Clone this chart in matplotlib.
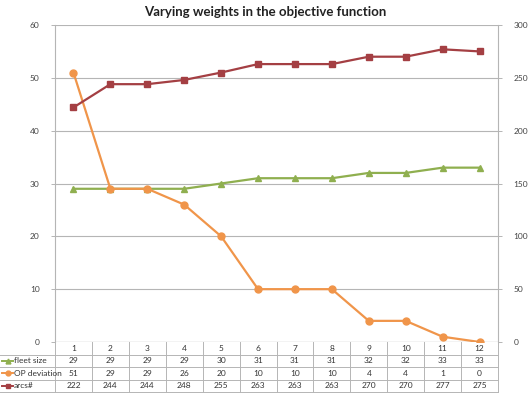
import matplotlib.pyplot as plt
from matplotlib.transforms import blended_transform_factory
from matplotlib.lines import Line2D

plt.rcParams['font.family'] = ['Lato', 'DejaVu Sans']

runs = [1, 2, 3, 4, 5, 6, 7, 8, 9, 10, 11, 12]
fleet_size = [29, 29, 29, 29, 30, 31, 31, 31, 32, 32, 33, 33]
op_deviation = [51, 29, 29, 26, 20, 10, 10, 10, 4, 4, 1, 0]
arcs = [222, 244, 244, 248, 255, 263, 263, 263, 270, 270, 277, 275]

c_fleet = '#8FAF4F'
c_op = '#F0954A'
c_arcs = '#A43F43'
grid_c = '#B5B5B5'

fig = plt.figure(figsize=(5.31, 3.94), dpi=100)
ax = fig.add_axes([55/531, 1-342/394, 443/531, 317/394])
ax2 = ax.twinx()

ax.plot(runs, fleet_size, color=c_fleet, marker='^', ms=5, lw=1.6)
ax.plot(runs, op_deviation, color=c_op, marker='o', ms=5, lw=1.6)
ax2.plot(runs, arcs, color=c_arcs, marker='s', ms=4.5, lw=1.6)

ax.set_xlim(0.5, 12.5)
ax.set_ylim(0, 60)
ax2.set_ylim(0, 300)
ax.set_yticks(range(0, 61, 10))
ax2.set_yticks(range(0, 301, 50))
ax.yaxis.grid(True, color=grid_c, lw=0.8)
ax.set_axisbelow(True)
ax.set_xticks([])
for a in (ax, ax2):
    a.tick_params(axis='y', labelsize=6, colors='#444444', length=3, width=0.7, color=grid_c, pad=8)
    for s in a.spines.values():
        s.set_visible(False)
ax.spines['left'].set_visible(True)
ax.spines['left'].set_color(grid_c)
ax2.spines['right'].set_visible(True)
ax2.spines['right'].set_color(grid_c)
ax.axhline(0, color='#888888', lw=0.8)

fig.text(0.5, 1 - 12/394, 'Varying weights in the objective function', fontsize=9.5,
         fontweight='bold', color='#222222', ha='center', va='center')

# data table under the plot
tr = blended_transform_factory(ax.transData, ax.transAxes)
rh = 12.5 / 317
px = 1 / 443
label_x = -55 * px
rows = [('fleet size', fleet_size, c_fleet, '^'),
        ('OP deviation', op_deviation, c_op, 'o'),
        ('arcs#', arcs, c_arcs, 's')]
nrows = len(rows) + 1
for i in range(13):
    ax.add_line(Line2D([i + 0.5, i + 0.5], [0, -nrows * rh], transform=tr,
                       color=grid_c, lw=0.7, clip_on=False))
for r in range(1, nrows + 1):
    ax.add_line(Line2D([label_x, 1], [-r * rh, -r * rh], transform=ax.transAxes,
                       color=grid_c, lw=0.7, clip_on=False))
for x, lab in zip(runs, runs):
    ax.text(x, -0.5 * rh, str(lab), transform=tr, ha='center', va='center',
            fontsize=6, color='#333333')
for r, (name, vals, col, mk) in enumerate(rows, start=1):
    yc = -(r + 0.5) * rh
    for x, v in zip(runs, vals):
        ax.text(x, yc, str(v), transform=tr, ha='center', va='center',
                fontsize=6, color='#333333')
    ax.add_line(Line2D([label_x + 2 * px, label_x + 7.5 * px, label_x + 13 * px], [yc, yc, yc],
                       transform=ax.transAxes, color=col, lw=1.4, marker=mk, ms=3.5,
                       markevery=[1], clip_on=False))
    ax.text(label_x + 14 * px, yc, name, transform=ax.transAxes, ha='left', va='center',
            fontsize=6, color='#333333')

fig.savefig('out.png', dpi=100)
